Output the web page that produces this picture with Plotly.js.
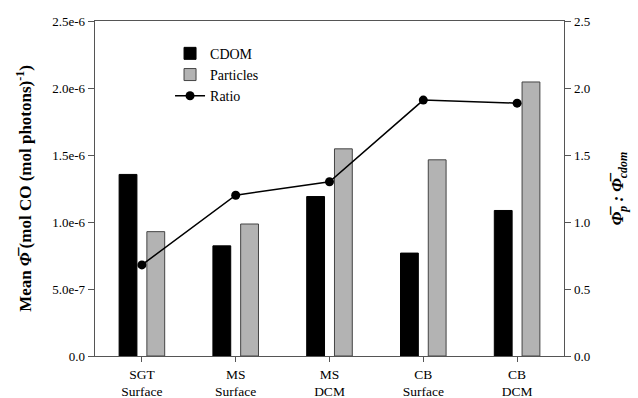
<!DOCTYPE html>
<html><head><meta charset="utf-8">
<script src="https://cdn.plot.ly/plotly-3.0.1.min.js"></script>
<style>html,body{margin:0;padding:0;background:#fff}#plot{width:638px;height:398px}</style>
</head><body><div id="plot"></div>
<script>
const categories = ["SGT<br>Surface", "MS<br>Surface", "MS<br>DCM", "CB<br>Surface", "CB<br>DCM"];
const cdom = [1.355e-6, 0.822e-6, 1.19e-6, 0.768e-6, 1.086e-6];
const particles = [0.928e-6, 0.985e-6, 1.546e-6, 1.464e-6, 2.045e-6];
const ratio = [0.68, 1.20, 1.30, 1.91, 1.887];
const leftTickVals = [0, 5e-7, 1e-6, 1.5e-6, 2e-6, 2.5e-6];
const leftTickText = ["0.0", "5.0e-7", "1.0e-6", "1.5e-6", "2.0e-6", "2.5e-6"];

const serif = "Liberation Serif";
const axisColor = "#555";

const traces = [
  {type: "bar", name: "CDOM", x: categories, y: cdom,
   marker: {color: "#000", line: {color: "#000", width: 1}}},
  {type: "bar", name: "Particles", x: categories, y: particles,
   marker: {color: "#b3b3b3", line: {color: "#444", width: 1}}},
  {type: "scatter", mode: "lines+markers", name: "Ratio", x: categories, y: ratio, yaxis: "y2",
   line: {color: "#000", width: 1.5}, marker: {color: "#000", size: 9}}
];

const layout = {
  width: 638, height: 398,
  margin: {l: 95, r: 74, t: 21, b: 42},
  paper_bgcolor: "#fff", plot_bgcolor: "#fff",
  font: {family: serif, size: 13, color: "#000"},
  barmode: "group", bargap: 0.408, bargroupgap: 0.358,
  showlegend: true,
  legend: {x: 0.16, y: 0.95, xanchor: "left", yanchor: "top", bgcolor: "rgba(0,0,0,0)",
           font: {family: serif, size: 14}, tracegroupgap: 0, itemwidth: 30},
  xaxis: {type: "category", showline: true, linecolor: axisColor, linewidth: 1.3, mirror: true,
          ticks: "outside", ticklen: 5, tickcolor: axisColor, showgrid: false, zeroline: false,
          tickfont: {family: serif, size: 13.5}, range: [-0.5, 4.5]},
  yaxis: {range: [0, 2.5e-6], tickvals: leftTickVals, ticktext: leftTickText,
          showline: true, linecolor: axisColor, linewidth: 1.3, ticks: "outside", ticklen: 6,
          tickcolor: axisColor, showgrid: false, zeroline: false,
          tickfont: {family: serif, size: 13},
          title: {text: "<b>Mean <i>Φ̅</i> (mol CO (mol photons)<sup>-1</sup>)</b>",
                  font: {family: serif, size: 17}, standoff: 16}},
  yaxis2: {overlaying: "y", side: "right", range: [0, 2.5], dtick: 0.5, tickformat: ".1f",
           showline: true, linecolor: axisColor, linewidth: 1.3, ticks: "outside", ticklen: 6,
           tickcolor: axisColor, showgrid: false, zeroline: false,
           tickfont: {family: serif, size: 13},
           title: {text: "<b><i>Φ̅<sub>p</sub> : Φ̅<sub>cdom</sub></i></b>",
                   font: {family: serif, size: 17}, standoff: 22}}
};

Plotly.newPlot("plot", traces, layout, {staticPlot: true, displayModeBar: false});
</script></body></html>
